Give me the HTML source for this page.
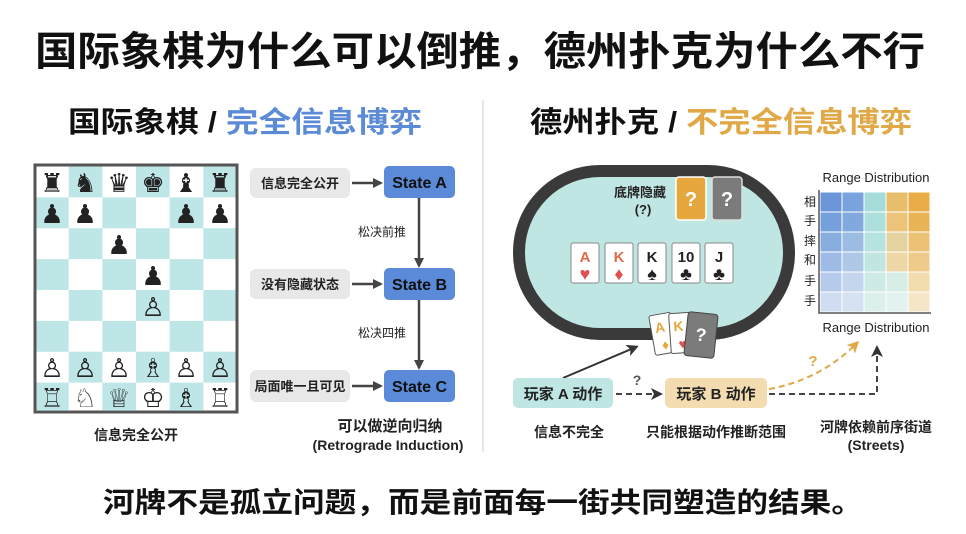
<!DOCTYPE html>
<html><head><meta charset="utf-8"><style>
html,body{margin:0;padding:0;background:#fff;}
svg{display:block;font-family:"Liberation Sans","Noto Sans CJK SC",sans-serif;}
</style></head><body>
<svg width="966" height="534" viewBox="0 0 966 534" xmlns="http://www.w3.org/2000/svg">
<defs>
<marker id="ah" markerWidth="10" markerHeight="10" refX="8" refY="5" orient="auto" markerUnits="userSpaceOnUse"><path d="M0,0 L10,5 L0,10 Z" fill="#444"/></marker>
<marker id="ah2" markerWidth="12" markerHeight="12" refX="9" refY="6" orient="auto" markerUnits="userSpaceOnUse"><path d="M0,0 L12,6 L0,12 L3,6 Z" fill="#333"/></marker>
<marker id="ahO" markerWidth="12" markerHeight="12" refX="9" refY="6" orient="auto" markerUnits="userSpaceOnUse"><path d="M0,0 L12,6 L0,12 L3,6 Z" fill="#e0a846"/></marker>
</defs>
<rect width="966" height="534" fill="#fff"/>
<text x="480" y="65" font-size="40" font-weight="bold" text-anchor="middle" textLength="890" lengthAdjust="spacingAndGlyphs" fill="#111">国际象棋为什么可以倒推，德州扑克为什么不行</text>
<text x="68" y="132" font-size="29" font-weight="bold" textLength="354" lengthAdjust="spacingAndGlyphs" fill="#111">国际象棋 / <tspan fill="#5b8bd6">完全信息博弈</tspan></text>
<text x="530" y="132" font-size="29" font-weight="bold" textLength="382" lengthAdjust="spacingAndGlyphs" fill="#111">德州扑克 / <tspan fill="#e0a846">不完全信息博弈</tspan></text>
<line x1="483" y1="100" x2="483" y2="452" stroke="#ddd" stroke-width="1.5"/>

<rect x="35" y="165" width="202" height="247" fill="#fff" stroke="#555" stroke-width="3"/>
<g fill="#bfe6e6">
<rect x="68.7" y="166.5" width="33.7" height="30.9"/><rect x="136" y="166.5" width="33.7" height="30.9"/><rect x="203.3" y="166.5" width="32.2" height="30.9"/>
<rect x="36.5" y="197.4" width="32.2" height="30.9"/><rect x="102.3" y="197.4" width="33.7" height="30.9"/><rect x="169.7" y="197.4" width="33.7" height="30.9"/>
<rect x="68.7" y="228.2" width="33.7" height="30.9"/><rect x="136" y="228.2" width="33.7" height="30.9"/><rect x="203.3" y="228.2" width="32.2" height="30.9"/>
<rect x="36.5" y="259.1" width="32.2" height="30.9"/><rect x="102.3" y="259.1" width="33.7" height="30.9"/><rect x="169.7" y="259.1" width="33.7" height="30.9"/>
<rect x="68.7" y="290" width="33.7" height="30.9"/><rect x="136" y="290" width="33.7" height="30.9"/><rect x="203.3" y="290" width="32.2" height="30.9"/>
<rect x="36.5" y="320.9" width="32.2" height="30.9"/><rect x="102.3" y="320.9" width="33.7" height="30.9"/><rect x="169.7" y="320.9" width="33.7" height="30.9"/>
<rect x="68.7" y="351.7" width="33.7" height="30.9"/><rect x="136" y="351.7" width="33.7" height="30.9"/><rect x="203.3" y="351.7" width="32.2" height="30.9"/>
<rect x="36.5" y="382.6" width="32.2" height="28"/><rect x="102.3" y="382.6" width="33.7" height="28"/><rect x="169.7" y="382.6" width="33.7" height="28"/>
</g>
<g font-family="DejaVu Sans,sans-serif" font-size="26" text-anchor="middle" fill="#222">
<text x="52" y="192">♜</text><text x="85" y="192">♞</text><text x="119" y="192">♛</text><text x="153" y="192">♚</text><text x="186" y="192">♝</text><text x="220" y="192">♜</text>
<text x="52" y="223">♟</text><text x="85" y="223">♟</text><text x="186" y="223">♟</text><text x="220" y="223">♟</text>
<text x="119" y="254">♟</text>
<text x="153" y="285">♟</text>
<text x="153" y="316">♙</text>
<text x="52" y="377">♙</text><text x="85" y="377">♙</text><text x="119" y="377">♙</text><text x="153" y="377">♗</text><text x="186" y="377">♙</text><text x="220" y="377">♙</text>
<text x="52" y="407">♖</text><text x="85" y="407">♘</text><text x="119" y="407">♕</text><text x="153" y="407">♔</text><text x="186" y="407">♗</text><text x="220" y="407">♖</text>
</g>
<text x="136" y="440" font-size="14" font-weight="bold" text-anchor="middle" fill="#222">信息完全公开</text>

<g font-size="13" font-weight="bold" fill="#222">
<rect x="250" y="168" width="100" height="30" rx="6" fill="#e8e8e8"/>
<text x="300" y="188" text-anchor="middle">信息完全公开</text>
<rect x="250" y="269" width="100" height="30" rx="6" fill="#e8e8e8"/>
<text x="300" y="289" text-anchor="middle">没有隐藏状态</text>
<rect x="250" y="370" width="100" height="32" rx="6" fill="#e8e8e8"/>
<text x="300" y="391" text-anchor="middle">局面唯一且可见</text>
</g>
<g stroke="#444" stroke-width="2.5">
<line x1="352" y1="183" x2="381" y2="183" marker-end="url(#ah)"/>
<line x1="352" y1="284" x2="381" y2="284" marker-end="url(#ah)"/>
<line x1="352" y1="386" x2="381" y2="386" marker-end="url(#ah)"/>
<line x1="419" y1="198" x2="419" y2="266" marker-end="url(#ah)"/>
<line x1="419" y1="300" x2="419" y2="368" marker-end="url(#ah)"/>
</g>
<g font-size="16" font-weight="bold" fill="#111" text-anchor="middle">
<rect x="384" y="166" width="71" height="32" rx="5" fill="#5b8ad8"/><text x="419.5" y="188">State A</text>
<rect x="384" y="268" width="71" height="32" rx="5" fill="#5b8ad8"/><text x="419.5" y="290">State B</text>
<rect x="384" y="370" width="71" height="32" rx="5" fill="#5b8ad8"/><text x="419.5" y="392">State C</text>
</g>
<g font-size="12" fill="#222" text-anchor="middle">
<text x="382" y="236">松决前推</text>
<text x="382" y="337">松决四推</text>
</g>
<g font-size="15" font-weight="bold" fill="#222" text-anchor="middle">
<text x="390" y="431">可以做逆向归纳</text>
<text x="388" y="450" font-size="14">(Retrograde Induction)</text>
</g>

<rect x="519" y="171" width="270" height="163" rx="81" fill="#bfe6e3" stroke="#3a3a3a" stroke-width="12"/>
<text x="640" y="197" font-size="13" font-weight="bold" text-anchor="middle" fill="#222">底牌隐藏</text>
<text x="643" y="214" font-size="13" font-weight="bold" text-anchor="middle" fill="#222">(?)</text>
<rect x="676" y="177" width="30" height="43" rx="3" fill="#e6a83e" stroke="#fff" stroke-width="1.5"/>
<text x="691" y="206" font-size="20" font-weight="bold" fill="#fff" text-anchor="middle">?</text>
<rect x="712" y="177" width="30" height="43" rx="3" fill="#7b7b7b" stroke="#ddd" stroke-width="1.5"/>
<text x="727" y="206" font-size="20" font-weight="bold" fill="#fff" text-anchor="middle">?</text>
<g font-weight="bold" text-anchor="middle">
<rect x="571" y="243" width="28" height="40" rx="2" fill="#fff" stroke="#888"/><text x="585" y="262" font-size="15" fill="#e06a4a">A</text><text x="585" y="280" font-size="18" fill="#e05050">♥</text>
<rect x="605" y="243" width="28" height="40" rx="2" fill="#fff" stroke="#888"/><text x="619" y="262" font-size="15" fill="#e06a4a">K</text><text x="619" y="280" font-size="18" fill="#e05050">♦</text>
<rect x="638" y="243" width="28" height="40" rx="2" fill="#fff" stroke="#888"/><text x="652" y="262" font-size="15" fill="#222">K</text><text x="652" y="280" font-size="18" fill="#222">♠</text>
<rect x="672" y="243" width="28" height="40" rx="2" fill="#fff" stroke="#888"/><text x="686" y="262" font-size="15" fill="#222">10</text><text x="686" y="280" font-size="18" fill="#222">♣</text>
<rect x="705" y="243" width="28" height="40" rx="2" fill="#fff" stroke="#888"/><text x="719" y="262" font-size="15" fill="#222">J</text><text x="719" y="280" font-size="18" fill="#222">♣</text>
</g>
<g font-weight="bold">
<g transform="rotate(-10 662 334)"><rect x="652" y="314" width="22" height="40" rx="2" fill="#fff" stroke="#555"/><text x="656" y="332" font-size="14" fill="#e6a83e">A</text><text x="660" y="350" font-size="14" fill="#e6a83e">♦</text></g>
<g transform="rotate(-4 680 334)"><rect x="670" y="313" width="22" height="40" rx="2" fill="#fff" stroke="#555"/><text x="674" y="331" font-size="14" fill="#e6a83e">K</text><text x="678" y="349" font-size="14" fill="#e05050">♥</text></g>
<g transform="rotate(6 701 335)"><rect x="686" y="313" width="30" height="44" rx="3" fill="#7b7b7b" stroke="#444"/><text x="701" y="341" font-size="18" fill="#fff" text-anchor="middle">?</text></g>
</g>

<text x="876" y="182" font-size="13" text-anchor="middle" fill="#222">Range Distribution</text>
<g stroke="#fff" stroke-width="1">
<rect x="820" y="192" width="22" height="20" fill="#6a95d8"/><rect x="842" y="192" width="22" height="20" fill="#79a3dc"/><rect x="864" y="192" width="22" height="20" fill="#a6dbdb"/><rect x="886" y="192" width="22" height="20" fill="#e9be6a"/><rect x="908" y="192" width="22" height="20" fill="#e8ad46"/>
<rect x="820" y="212" width="22" height="20" fill="#76a0dc"/><rect x="842" y="212" width="22" height="20" fill="#82a9de"/><rect x="864" y="212" width="22" height="20" fill="#addfdc"/><rect x="886" y="212" width="22" height="20" fill="#ebc47a"/><rect x="908" y="212" width="22" height="20" fill="#e9b456"/>
<rect x="820" y="232" width="22" height="20" fill="#88aee0"/><rect x="842" y="232" width="22" height="20" fill="#9cbce3"/><rect x="864" y="232" width="22" height="20" fill="#b6e2df"/><rect x="886" y="232" width="22" height="20" fill="#e3d3a0"/><rect x="908" y="232" width="22" height="20" fill="#ecc277"/>
<rect x="820" y="252" width="22" height="20" fill="#9dbbe5"/><rect x="842" y="252" width="22" height="20" fill="#afc8e8"/><rect x="864" y="252" width="22" height="20" fill="#c1e6e2"/><rect x="886" y="252" width="22" height="20" fill="#eed7a6"/><rect x="908" y="252" width="22" height="20" fill="#eecb8a"/>
<rect x="820" y="272" width="22" height="20" fill="#b6cbec"/><rect x="842" y="272" width="22" height="20" fill="#c4d6ee"/><rect x="864" y="272" width="22" height="20" fill="#cdeae6"/><rect x="886" y="272" width="22" height="20" fill="#d7eee8"/><rect x="908" y="272" width="22" height="20" fill="#f1dcad"/>
<rect x="820" y="292" width="22" height="20" fill="#cfdcf2"/><rect x="842" y="292" width="22" height="20" fill="#d6e2f2"/><rect x="864" y="292" width="22" height="20" fill="#dbefec"/><rect x="886" y="292" width="22" height="20" fill="#e2f2ee"/><rect x="908" y="292" width="22" height="20" fill="#f5e6c8"/>
</g>
<polyline points="819,190 819,313 931,313" fill="none" stroke="#555" stroke-width="1.5"/>
<g font-size="12" fill="#222" text-anchor="middle">
<text x="810" y="206">相</text><text x="810" y="225">手</text><text x="810" y="245">摔</text><text x="810" y="264">和</text><text x="810" y="285">手</text><text x="810" y="305">手</text>
</g>
<text x="876" y="332" font-size="13" text-anchor="middle" fill="#222">Range Distribution</text>

<line x1="563" y1="378" x2="636" y2="347" stroke="#333" stroke-width="2" marker-end="url(#ah2)"/>
<rect x="513" y="378" width="100" height="30" rx="5" fill="#bfe6e3"/>
<text x="563" y="399" font-size="15" font-weight="bold" text-anchor="middle" fill="#222">玩家 A 动作</text>
<rect x="665" y="378" width="102" height="30" rx="5" fill="#f3dcb0"/>
<text x="716" y="399" font-size="15" font-weight="bold" text-anchor="middle" fill="#222">玩家 B 动作</text>
<line x1="616" y1="394" x2="660" y2="394" stroke="#444" stroke-width="2" stroke-dasharray="6,4" marker-end="url(#ah2)"/>
<text x="637" y="385" font-size="14" font-weight="bold" text-anchor="middle" fill="#555">?</text>
<polyline points="769,394 877,394 877,348" fill="none" stroke="#444" stroke-width="2" stroke-dasharray="6,4" marker-end="url(#ah2)"/>
<path d="M769,389 Q820,380 857,343" fill="none" stroke="#e0a846" stroke-width="2" stroke-dasharray="6,4" marker-end="url(#ahO)"/>
<text x="813" y="366" font-size="15" font-weight="bold" text-anchor="middle" fill="#e0a846">?</text>
<g font-size="14" font-weight="bold" fill="#222" text-anchor="middle">
<text x="569" y="437">信息不完全</text>
<text x="716" y="437">只能根据动作推断范围</text>
<text x="876" y="432">河牌依赖前序街道</text>
<text x="876" y="450">(Streets)</text>
</g>

<text x="483" y="512" font-size="28" font-weight="bold" text-anchor="middle" textLength="760" lengthAdjust="spacingAndGlyphs" fill="#111">河牌不是孤立问题，而是前面每一街共同塑造的结果。</text>
</svg>
</body></html>
